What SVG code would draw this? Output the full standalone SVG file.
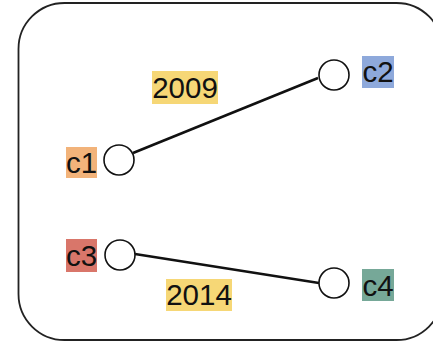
<svg xmlns="http://www.w3.org/2000/svg" width="433" height="342" viewBox="0 0 433 342">
<style>
.frame{fill:#fff;stroke:#222;stroke-width:1.8}
.node{fill:#fff;stroke:#111;stroke-width:1.6}
.edge{stroke:#111;stroke-width:2.6;fill:none}
.lbl{font-family:"Liberation Sans",Arial,sans-serif;font-size:29.5px;fill:#111;text-anchor:middle}
</style>
<rect class="frame" x="18.5" y="3" width="424" height="337" rx="46" ry="46"/>
<g id="connectors">
<line class="edge" x1="133" y1="153" x2="318" y2="78"/>
<line class="edge" x1="135" y1="254" x2="319" y2="283"/>
</g>
<g id="label-2009">
<rect x="152" y="71" width="66" height="33" fill="#f6d776"/>
<text class="lbl" x="185" y="98">2009</text>
</g>
<g id="label-2014">
<rect x="166" y="279" width="66" height="32" fill="#f6d776"/>
<text class="lbl" x="199" y="305">2014</text>
</g>
<g id="c1">
<rect x="66" y="147" width="31" height="31" fill="#f2b37a"/>
<text class="lbl" x="81.5" y="173">c1</text>
<circle class="node" cx="119" cy="160" r="15"/>
</g>
<g id="c2">
<rect x="362" y="56" width="32" height="32" fill="#8ea9db"/>
<text class="lbl" x="378" y="82">c2</text>
<circle class="node" cx="334" cy="75" r="15"/>
</g>
<g id="c3">
<rect x="66" y="239" width="31" height="33" fill="#d9766a"/>
<text class="lbl" x="81.5" y="266">c3</text>
<circle class="node" cx="120" cy="255" r="15"/>
</g>
<g id="c4">
<rect x="362" y="269" width="32" height="32" fill="#76a898"/>
<text class="lbl" x="378" y="296">c4</text>
<circle class="node" cx="334" cy="283" r="15"/>
</g>
</svg>
